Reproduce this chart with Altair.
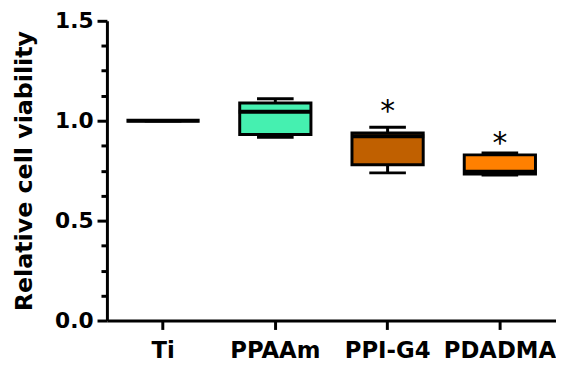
import altair as alt
import pandas as pd

groups = ["Ti", "PPAAm", "PPI-G4", "PDADMA"]
whisker_low = [1.0, 0.917, 0.739, 0.728]
q1 = [1.0, 0.931, 0.780, 0.733]
median = [1.0, 1.045, 0.922, 0.745]
q3 = [1.0, 1.089, 0.938, 0.829]
whisker_high = [1.0, 1.110, 0.967, 0.838]
fill_colors = ["#000000", "#45F0B0", "#C06000", "#FF8000"]
star_groups = ["PPI-G4", "PDADMA"]
star_y = [1.08, 0.92]

df = pd.DataFrame({
    "group": groups, "lo": whisker_low, "q1": q1, "med": median,
    "q3": q3, "hi": whisker_high,
})
stars = pd.DataFrame({"group": star_groups, "y": star_y, "t": ["*", "*"]})

FONT = "DejaVu Sans"
TITLE = "Relative cell viability"

xenc = alt.X(
    "group:N", sort=groups, title=None,
    scale=alt.Scale(domain=groups, paddingInner=0, paddingOuter=0),
    axis=alt.Axis(labelFont=FONT, labelFontWeight="bold", labelFontSize=23,
                  labelColor="black", labelAngle=0, labelPadding=10,
                  tickSize=9, tickWidth=3, tickColor="black",
                  domainWidth=3, domainColor="black", grid=False),
)

yscale = alt.Scale(domain=[0, 1.5], nice=False, zero=True)
yaxis = alt.Axis(
    values=[i * 0.125 for i in range(13)],
    labelExpr="datum.value % 0.5 === 0 ? format(datum.value, '.1f') : ''",
    labelOverlap=False, labelFlush=False,
    labelFont=FONT, labelFontWeight="bold", labelFontSize=22, labelColor="black",
    labelPadding=4,
    tickSize={"condition": {"test": "datum.value % 0.5 === 0", "value": 10}, "value": 6},
    tickWidth=3, tickColor="black", domainWidth=3, domainColor="black", grid=False,
    titleFont=FONT, titleFontWeight="bold", titleFontSize=24, titleColor="black",
    titlePadding=18,
)


def yenc(field):
    return alt.Y(f"{field}:Q", scale=yscale, axis=yaxis, title=TITLE)


base = alt.Chart(df)

whisk_low_rule = base.mark_rule(color="black", strokeWidth=3).encode(
    x=xenc, y=yenc("lo"), y2="q1:Q")
whisk_high_rule = base.mark_rule(color="black", strokeWidth=3).encode(
    x=xenc, y=yenc("q3"), y2="hi:Q")
boxes = base.mark_bar(size=72, stroke="black", strokeWidth=3).encode(
    x=xenc, y=yenc("q1"), y2="q3:Q",
    fill=alt.Fill("group:N", scale=alt.Scale(domain=groups, range=fill_colors), legend=None),
)
meds = base.mark_tick(color="black", size=74, thickness=4, opacity=1).encode(
    x=xenc, y=yenc("med"))
caps_lo = base.mark_tick(color="black", size=37, thickness=3, opacity=1).encode(
    x=xenc, y=yenc("lo"))
caps_hi = base.mark_tick(color="black", size=37, thickness=3, opacity=1).encode(
    x=xenc, y=yenc("hi"))
star_marks = alt.Chart(stars).mark_text(
    font=FONT, fontSize=30, color="black", baseline="alphabetic", dy=16
).encode(x=xenc, y=yenc("y"), text="t:N")

chart = alt.layer(
    whisk_low_rule, whisk_high_rule, boxes, meds, caps_lo, caps_hi, star_marks
).properties(
    width=454, height=303,
    padding={"left": 5, "top": 0, "right": 0, "bottom": 0},
).configure_view(stroke=None)

chart.save("out.html", embed_options={"renderer": "svg", "actions": False})
